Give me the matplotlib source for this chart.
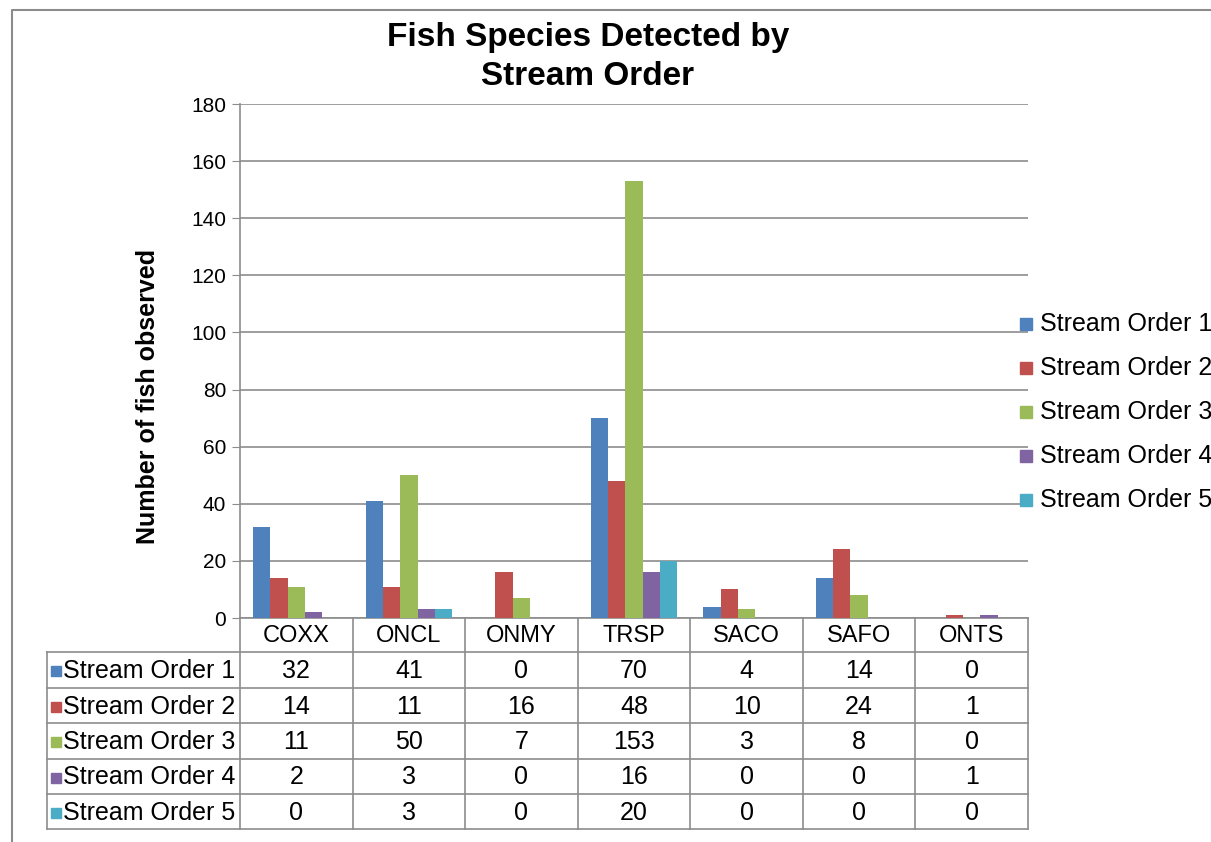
import matplotlib.pyplot as plt
from matplotlib.patches import Rectangle

# Data
species = ["COXX", "ONCL", "ONMY", "TRSP", "SACO", "SAFO", "ONTS"]
series_names = ["Stream Order 1", "Stream Order 2", "Stream Order 3",
                "Stream Order 4", "Stream Order 5"]
order1 = [32, 41, 0, 70, 4, 14, 0]
order2 = [14, 11, 16, 48, 10, 24, 1]
order3 = [11, 50, 7, 153, 3, 8, 0]
order4 = [2, 3, 0, 16, 0, 0, 1]
order5 = [0, 3, 0, 20, 0, 0, 0]
series = [order1, order2, order3, order4, order5]
colors = ["#4F81BD", "#C0504D", "#9BBB59", "#8064A2", "#4BACC6"]

W, H = 1211, 842
GRAY = "#8C8C8C"
plt.rcParams['font.family'] = ['Liberation Sans', 'DejaVu Sans']

fig = plt.figure(figsize=(W / 100, H / 100), dpi=100)

# plot area in pixel coords
px_left, px_right, px_top, px_bottom = 240, 1028, 104, 618
ax = fig.add_axes([px_left / W, 1 - px_bottom / H,
                   (px_right - px_left) / W, (px_bottom - px_top) / H])

n = len(species)
w = 1 / 6.5
for j, vals in enumerate(series):
    xs = [i + (j - 2) * w for i in range(n)]
    ax.bar(xs, vals, width=w, color=colors[j], label=series_names[j], zorder=3)

ax.set_xlim(-0.5, n - 0.5)
ax.set_ylim(0, 180)
ax.set_yticks(range(0, 181, 20))
ax.set_xticks([])
ax.yaxis.grid(True, color=GRAY, linewidth=1.2, zorder=0)
for s in ["top", "right"]:
    ax.spines[s].set_visible(False)
ax.spines["left"].set_color(GRAY)
ax.spines["bottom"].set_color(GRAY)
ax.spines["left"].set_linewidth(1.2)
ax.spines["bottom"].set_linewidth(1.2)
ax.tick_params(axis="y", direction="out", length=6, color=GRAY,
               labelsize=15, pad=4)

fig.text(148 / W, 1 - 396 / H, "Number of fish observed", rotation=90,
         ha="center", va="center", fontsize=18, fontweight="bold")

fig.text(588 / W, 1 - 57 / H, "Fish Species Detected by\nStream Order",
         ha="center", va="center", fontsize=24, fontweight="bold",
         linespacing=1.35)

# data table underneath
tbl_left, tbl_bottom = 47, 829
tax = fig.add_axes([0, 0, 1, 1], facecolor="none")
tax.set_xlim(0, W)
tax.set_ylim(H, 0)
tax.axis("off")

cat_w = (px_right - px_left) / n
row_edges = [618, 652, 688, 723, 759, 794, 829]
lw = 1.2
for i in range(n + 1):
    x = px_left + i * cat_w
    tax.plot([x, x], [row_edges[0], tbl_bottom], color=GRAY, lw=lw)
tax.plot([tbl_left, tbl_left], [row_edges[1], tbl_bottom], color=GRAY, lw=lw)
for y in row_edges[1:]:
    tax.plot([tbl_left, px_right], [y, y], color=GRAY, lw=lw)

FS = 18
for i, name in enumerate(species):
    cx = px_left + (i + 0.5) * cat_w
    tax.text(cx, (row_edges[0] + row_edges[1]) / 2 + 1, name, ha="center",
             va="center", fontsize=17)
for j, vals in enumerate(series):
    cy = (row_edges[j + 1] + row_edges[j + 2]) / 2 + 1
    tax.add_patch(Rectangle((51, cy - 5), 10, 10, color=colors[j]))
    tax.text(63, cy, series_names[j], ha="left", va="center", fontsize=FS)
    for i, v in enumerate(vals):
        cx = px_left + (i + 0.5) * cat_w
        tax.text(cx, cy, str(v), ha="center", va="center", fontsize=FS)

# legend on the right, cut off at the figure edge
for j, name in enumerate(series_names):
    cy = 324 + j * 44
    tax.add_patch(Rectangle((1020, cy - 6), 12, 12, color=colors[j]))
    tax.text(1040, cy, name, ha="left", va="center", fontsize=FS)

# chart border
tax.plot([12, 12, W + 5], [H + 5, 10, 10], color=GRAY, lw=1.5)

fig.savefig("out.png", dpi=100)
